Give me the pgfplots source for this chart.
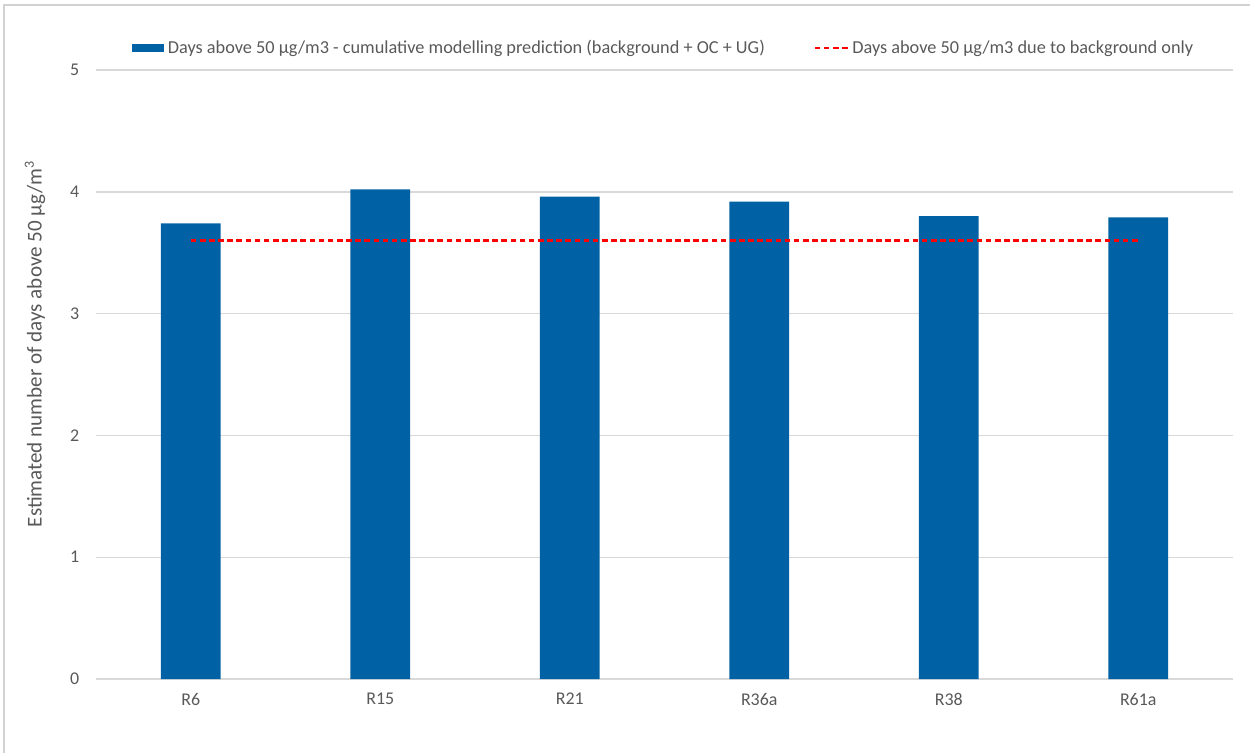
\documentclass[border=0pt]{standalone}
\usepackage{pgfplots}
\pgfplotsset{compat=1.18}
\usepackage{fontspec}
\setmainfont{Carlito}
\definecolor{barblue}{RGB}{0,98,165}
\definecolor{txtgray}{RGB}{89,89,89}
\definecolor{gridgray}{RGB}{217,217,217}
\definecolor{framegray}{RGB}{210,210,210}
\begin{document}
\begin{tikzpicture}
\begin{axis}[
    at={(1.92cm,1.48cm)}, anchor=south west,
    scale only axis,
    width=22.74cm, height=12.18cm,
    xmin=-0.5, xmax=5.5,
    ymin=0, ymax=5,
    xtick={0,1,2,3,4,5},
    xticklabels={R6,R15,R21,R36a,R38,R61a},
    ytick={0,1,2,3,4,5},
    ymajorgrids, grid style={gridgray, line width=0.8pt},
    axis x line*=bottom,
    axis y line*=left,
    y axis line style={draw=none},
    x axis line style={gridgray, line width=0.8pt, -},
    major tick length=0pt,
    tick label style={txtgray, font=\fontsize{10.2}{12}\selectfont},
    /pgf/number format/assume math mode=true,
    xticklabel style={yshift=-4.5pt},
    yticklabel style={xshift=-6pt},
    ylabel={Estimated number of days above 50 µg/m\textsuperscript{3}},
    ylabel style={txtgray, font=\fontsize{12}{14}\selectfont,
        at={(axis description cs:0,0.55)}, anchor=center, yshift=1.22cm},
    legend columns=2,
    legend style={draw=none, fill=none, at={(0.5,1.036)}, anchor=center,
        font=\fontsize{10.4}{12}\selectfont, text=txtgray,
        /tikz/every even column/.append style={column sep=0.9cm}},
    clip=false,
]
\addplot[ybar, bar width=0.316, draw=none, fill=barblue,
    legend image code/.code={\fill[barblue] (0cm,-0.085cm) rectangle (0.64cm,0.085cm);}]
    coordinates {(0,3.74) (1,4.02) (2,3.96) (3,3.92) (4,3.80) (5,3.79)};
\addlegendentry{Days above 50 µg/m3 - cumulative modelling prediction (background + OC + UG)}
\addplot[red, line width=1.4pt, dash pattern=on 3.2pt off 2pt, sharp plot,
    legend image code/.code={\draw[red, line width=1.4pt, dash pattern=on 3.2pt off 2pt] (0cm,0cm) -- (0.66cm,0cm);}]
    coordinates {(0,3.6) (1,3.6) (2,3.6) (3,3.6) (4,3.6) (5,3.6)};
\addlegendentry{Days above 50 µg/m3 due to background only}
\end{axis}
% outer frame (top and left only visible)
\draw[framegray, line width=0.8pt] (0.08cm,0cm) -- (0.08cm,14.96cm) -- (25cm,14.96cm);
\pgfresetboundingbox
\useasboundingbox (0cm,0cm) rectangle (25cm,15.06cm);
\end{tikzpicture}
\end{document}
